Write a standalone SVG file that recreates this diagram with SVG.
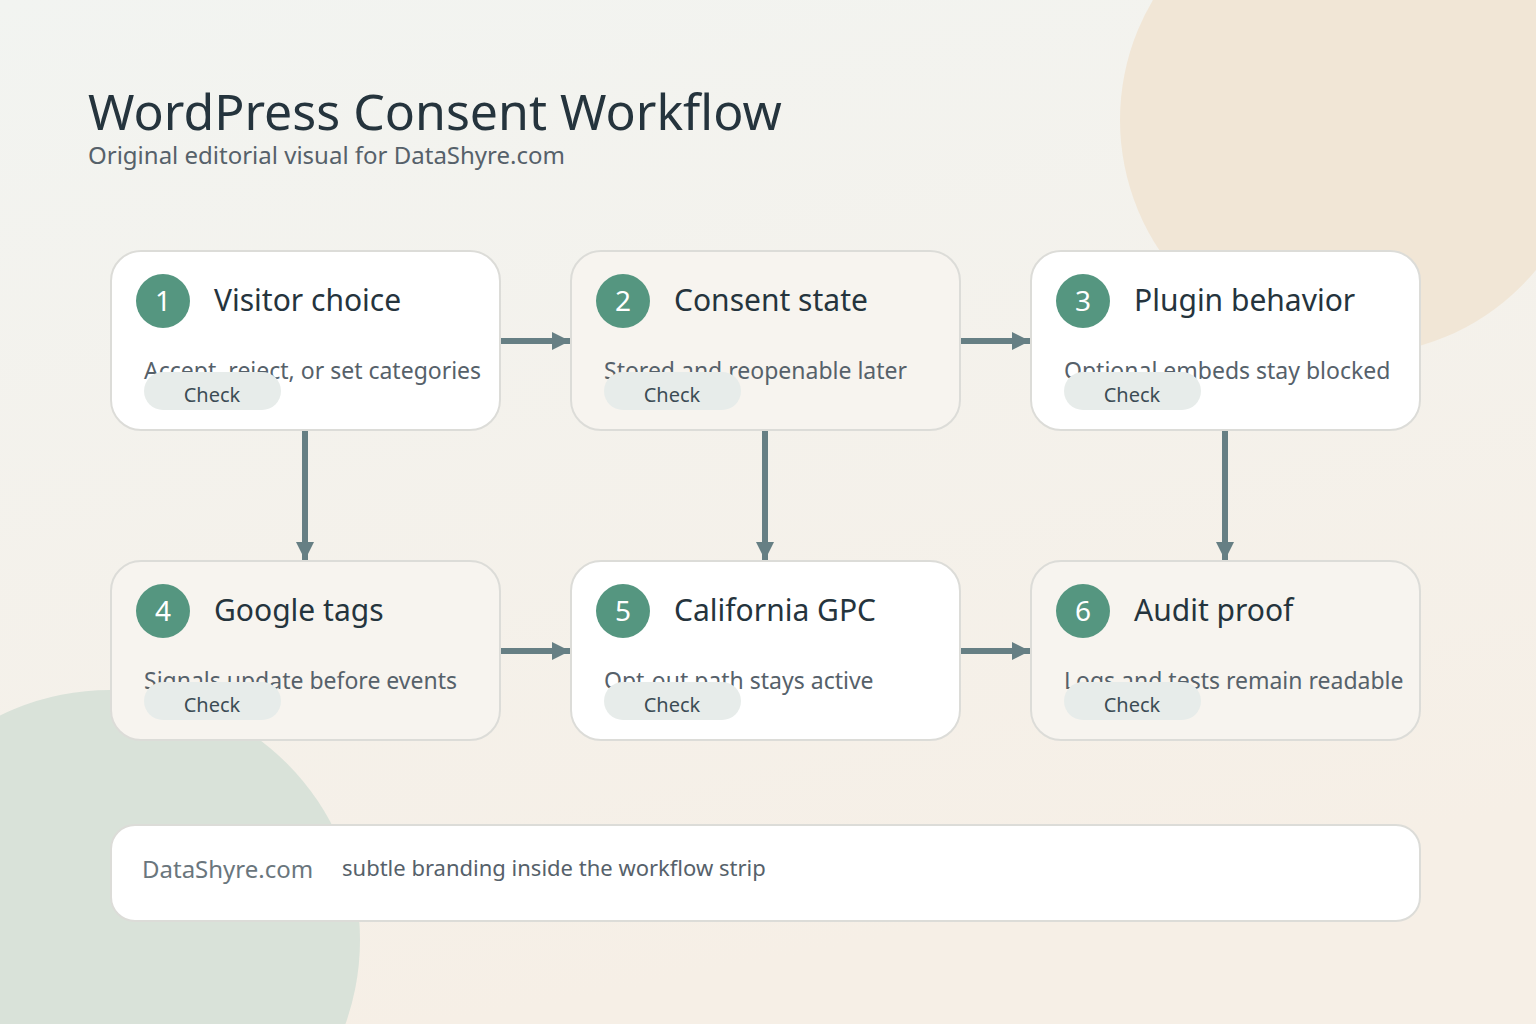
<svg xmlns="http://www.w3.org/2000/svg" width="1536" height="1024" viewBox="0 0 1536 1024">
<defs>
<linearGradient id="bg" x1="0" y1="0" x2="0.3" y2="1"><stop offset="0" stop-color="#f2f4f1"/><stop offset="1" stop-color="#f6efe6"/></linearGradient>
<marker id="ah" viewBox="0 0 10 10" refX="10" refY="5" markerWidth="3" markerHeight="3" orient="auto"><path d="M0,0L10,5L0,10z" fill="#667f84"/></marker>
</defs>
<style>
text{font-family:"Noto Sans","Open Sans",sans-serif}
.card{stroke:#dcdcd8;stroke-width:2}
.w{fill:#ffffff}.c{fill:#f7f4ef}
.num{fill:#559680}
.nt{fill:#ffffff;font-size:28px;text-anchor:middle}
.tt{fill:#25343d;font-size:30px}
.st{fill:#56616a;font-size:23px}
.pill{fill:#e7ecea}
.pt{fill:#3c4c55;font-size:20px;text-anchor:middle}
.ln{stroke:#667f84;stroke-width:6;fill:none;marker-end:url(#ah)}
</style>
<rect width="1536" height="1024" fill="url(#bg)"/>
<circle cx="1355" cy="120" r="235" fill="#f1e6d6"/>
<circle cx="110" cy="940" r="250" fill="#d9e2d9"/>
<text x="88" y="130" font-size="50" fill="#25343d">WordPress Consent Workflow</text>
<text x="88" y="164" font-size="24" fill="#56616a">Original editorial visual for DataShyre.com</text>
<g id="connectors">
<line class="ln" x1="500" y1="341" x2="570" y2="341"/>
<line class="ln" x1="960" y1="341" x2="1030" y2="341"/>
<line class="ln" x1="500" y1="651" x2="570" y2="651"/>
<line class="ln" x1="960" y1="651" x2="1030" y2="651"/>
<line class="ln" x1="305" y1="430" x2="305" y2="560"/>
<line class="ln" x1="765" y1="430" x2="765" y2="560"/>
<line class="ln" x1="1225" y1="430" x2="1225" y2="560"/>
</g>
<g id="n1"><rect class="card w" x="111" y="251" width="389" height="179" rx="30"/><circle class="num" cx="163" cy="301" r="27"/><text class="nt" x="163" y="311">1</text><text class="tt" x="214" y="311">Visitor choice</text><text class="st" x="144" y="379">Accept, reject, or set categories</text><rect class="pill" x="144" y="372" width="137" height="38" rx="19"/><text class="pt" x="212" y="402">Check</text></g>
<g id="n2"><rect class="card c" x="571" y="251" width="389" height="179" rx="30"/><circle class="num" cx="623" cy="301" r="27"/><text class="nt" x="623" y="311">2</text><text class="tt" x="674" y="311">Consent state</text><text class="st" x="604" y="379">Stored and reopenable later</text><rect class="pill" x="604" y="372" width="137" height="38" rx="19"/><text class="pt" x="672" y="402">Check</text></g>
<g id="n3"><rect class="card w" x="1031" y="251" width="389" height="179" rx="30"/><circle class="num" cx="1083" cy="301" r="27"/><text class="nt" x="1083" y="311">3</text><text class="tt" x="1134" y="311">Plugin behavior</text><text class="st" x="1064" y="379">Optional embeds stay blocked</text><rect class="pill" x="1064" y="372" width="137" height="38" rx="19"/><text class="pt" x="1132" y="402">Check</text></g>
<g id="n4"><rect class="card c" x="111" y="561" width="389" height="179" rx="30"/><circle class="num" cx="163" cy="611" r="27"/><text class="nt" x="163" y="621">4</text><text class="tt" x="214" y="621">Google tags</text><text class="st" x="144" y="689">Signals update before events</text><rect class="pill" x="144" y="682" width="137" height="38" rx="19"/><text class="pt" x="212" y="712">Check</text></g>
<g id="n5"><rect class="card w" x="571" y="561" width="389" height="179" rx="30"/><circle class="num" cx="623" cy="611" r="27"/><text class="nt" x="623" y="621">5</text><text class="tt" x="674" y="621">California GPC</text><text class="st" x="604" y="689">Opt-out path stays active</text><rect class="pill" x="604" y="682" width="137" height="38" rx="19"/><text class="pt" x="672" y="712">Check</text></g>
<g id="n6"><rect class="card c" x="1031" y="561" width="389" height="179" rx="30"/><circle class="num" cx="1083" cy="611" r="27"/><text class="nt" x="1083" y="621">6</text><text class="tt" x="1134" y="621">Audit proof</text><text class="st" x="1064" y="689">Logs and tests remain readable</text><rect class="pill" x="1064" y="682" width="137" height="38" rx="19"/><text class="pt" x="1132" y="712">Check</text></g>
<g id="footer"><rect class="card w" x="111" y="825" width="1309" height="96" rx="24"/><text x="142" y="878" font-size="24" fill="#6a767d">DataShyre.com</text><text x="342" y="876" font-size="22" fill="#56616a">subtle branding inside the workflow strip</text></g>
</svg>
